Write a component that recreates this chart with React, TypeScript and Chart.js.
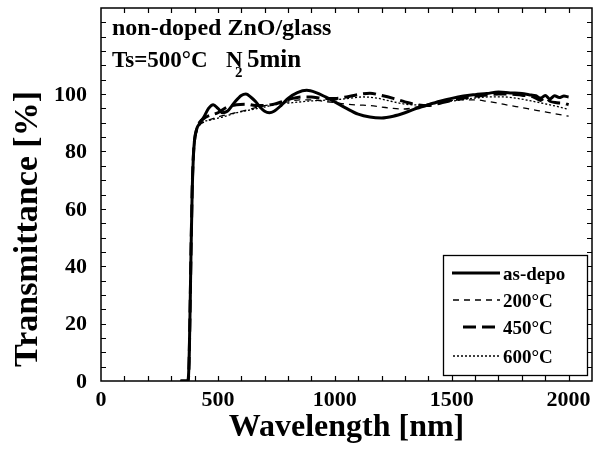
import React, { useEffect, useRef } from "react";
import Chart from "chart.js/auto";

// Transmittance spectra of non-doped ZnO films on glass (Ts = 500 °C, N2 anneal 5 min)
const asDepoNm = [340, 370, 375, 380, 385, 390, 395, 400, 410, 420, 440, 460, 480, 500, 520, 540, 570, 600, 620, 640, 660, 680, 700, 720, 740, 770, 800, 840, 880, 920, 960, 1000, 1050, 1100, 1150, 1200, 1250, 1300, 1350, 1400, 1450, 1500, 1550, 1600, 1650, 1700, 1750, 1800, 1830, 1860, 1880, 1900, 1920, 1940, 1960, 1980, 2000];
const asDepoT = [0, 0, 3, 20, 45, 66, 78, 84, 88, 89.5, 92, 95, 96.3, 95, 93.5, 94, 97, 99.5, 100, 99, 97.5, 95.5, 94, 93.5, 94, 96, 98.5, 100.5, 101.3, 100.5, 99, 97.3, 95, 93, 92, 91.7, 92.3, 93.5, 95, 96.3, 97.5, 98.5, 99.3, 99.8, 100.2, 100.7, 100.4, 100.2, 99.8, 99.4, 98.6, 99.5, 98.3, 99.4, 98.8, 99.3, 99];

const t200Nm = [340, 372, 378, 383, 388, 393, 400, 410, 420, 450, 500, 550, 600, 650, 700, 750, 800, 850, 900, 950, 1000, 1050, 1100, 1150, 1200, 1250, 1300, 1350, 1400, 1450, 1500, 1550, 1600, 1650, 1700, 1750, 1800, 1850, 1900, 1950, 2000];
const t200T = [0, 0, 5, 30, 55, 72, 82, 87, 89, 90.5, 92, 93, 94, 95, 96, 96.5, 97.3, 98, 98, 97.5, 97, 96.5, 96.2, 96, 95.5, 95, 94.8, 95.5, 96.5, 97.3, 97.8, 98, 98, 97.5, 96.8, 96, 95.3, 94.5, 93.8, 93, 92.3];

const t450Nm = [340, 372, 376, 381, 386, 391, 396, 402, 410, 420, 450, 500, 540, 580, 620, 660, 700, 740, 780, 820, 860, 900, 950, 1000, 1050, 1100, 1150, 1200, 1250, 1300, 1350, 1400, 1450, 1500, 1550, 1600, 1650, 1700, 1750, 1800, 1850, 1880, 1900, 1920, 1950, 1980, 2000];
const t450T = [0, 0, 4, 25, 50, 70, 80, 85, 88, 90, 92, 93.5, 95.5, 96.3, 96.5, 96, 96, 96.5, 97.5, 98.5, 99, 99, 98.5, 98.5, 99, 99.8, 100.3, 99.5, 98.5, 97.3, 96.3, 96, 96.8, 97.8, 98.6, 99.2, 99.7, 100, 100, 99.6, 99, 97.8, 98.8, 97.5, 97, 96.8, 96.3];

const t600Nm = [340, 372, 377, 382, 387, 392, 398, 405, 415, 430, 470, 520, 580, 640, 700, 760, 820, 880, 940, 1000, 1060, 1120, 1180, 1240, 1300, 1360, 1420, 1480, 1540, 1600, 1660, 1720, 1780, 1840, 1900, 1960, 2000];
const t600T = [0, 0, 4, 28, 52, 71, 81, 86, 88.5, 90, 91, 92, 93.5, 94.5, 95.5, 96.5, 97, 97.5, 97.8, 98, 98.5, 99, 98.6, 97.5, 96.5, 96.2, 96.6, 97.3, 98, 98.6, 99, 99, 98.5, 97.6, 96.6, 95.5, 94.7];

const seriesLabels = ["as-depo", "200°C", "450°C", "600°C"];
const xLabelValues = [0, 500, 1000, 1500, 2000];
const yLabelValues = [0, 20, 40, 60, 80, 100];

const SERIF = '"Liberation Serif", "Times New Roman", serif';

const lineStyles = [
  { width: 3, dash: [] as number[] },
  { width: 1.3, dash: [6, 5] },
  { width: 3, dash: [13, 6] },
  { width: 1.3, dash: [2, 2] },
];

const toPoints = (xs: number[], ys: number[]) => xs.map((x, i) => ({ x, y: ys[i] }));

const decorPlugin = {
  id: "decor",
  afterDraw(chart: any) {
    const { ctx, chartArea } = chart;
    const { left, right, top, bottom } = chartArea;
    const xs = chart.scales.x;
    const ys = chart.scales.y;
    ctx.save();
    ctx.strokeStyle = "#000";
    ctx.fillStyle = "#000";

    // frame
    ctx.lineWidth = 1.5;
    ctx.strokeRect(left, top, right - left, bottom - top);

    // inward ticks on all four sides
    ctx.lineWidth = 1.2;
    ctx.beginPath();
    for (let v = 100; v < 2100; v += 100) {
      const px = Math.round(xs.getPixelForValue(v)) + 0.5;
      ctx.moveTo(px, bottom);
      ctx.lineTo(px, bottom - 5);
      ctx.moveTo(px, top);
      ctx.lineTo(px, top + 5);
    }
    for (let v = 5; v < 130; v += 5) {
      const py = Math.round(ys.getPixelForValue(v)) + 0.5;
      ctx.moveTo(left, py);
      ctx.lineTo(left + 5, py);
      ctx.moveTo(right, py);
      ctx.lineTo(right - 5, py);
    }
    ctx.stroke();

    // tick labels
    ctx.font = `bold 22px ${SERIF}`;
    ctx.textAlign = "center";
    ctx.textBaseline = "alphabetic";
    xLabelValues.forEach((v) => {
      ctx.fillText(String(v), xs.getPixelForValue(v), 406);
    });
    ctx.textAlign = "right";
    ctx.textBaseline = "middle";
    yLabelValues.forEach((v) => {
      ctx.fillText(String(v), left - 14, ys.getPixelForValue(v) + 1);
    });

    // axis titles
    ctx.font = `bold 32px ${SERIF}`;
    ctx.textAlign = "center";
    ctx.textBaseline = "alphabetic";
    ctx.fillText("Wavelength [nm]", (left + right) / 2, 436);

    ctx.save();
    ctx.translate(36.5, 229);
    ctx.rotate(-Math.PI / 2);
    ctx.font = `bold 34px ${SERIF}`;
    ctx.fillText("Transmittance [%]", 0, 0);
    ctx.restore();

    // sample annotation
    ctx.textAlign = "left";
    ctx.font = `bold 24px ${SERIF}`;
    ctx.fillText("non-doped ZnO/glass", 112, 35);
    ctx.font = `bold 23px ${SERIF}`;
    ctx.fillText("Ts=500°C", 112, 67);
    ctx.fillText("N", 226, 67);
    ctx.font = `bold 15px ${SERIF}`;
    ctx.fillText("2", 235, 77);
    ctx.font = `bold 25px ${SERIF}`;
    ctx.fillText("5min", 247, 67);

    // legend
    const bx = 443, by = 255, bw = 144, bh = 120;
    ctx.fillStyle = "#fff";
    ctx.fillRect(bx, by, bw, bh);
    ctx.fillStyle = "#000";
    ctx.lineWidth = 1.3;
    ctx.setLineDash([]);
    ctx.strokeRect(bx + 0.5, by + 0.5, bw, bh);
    const rowY = [273, 300, 327, 356];
    const sampleStart = [452, 453, 463, 453];
    ctx.font = `bold 19px ${SERIF}`;
    ctx.textAlign = "left";
    ctx.textBaseline = "middle";
    seriesLabels.forEach((lab, i) => {
      ctx.lineWidth = lineStyles[i].width;
      ctx.setLineDash(lineStyles[i].dash);
      ctx.beginPath();
      ctx.moveTo(sampleStart[i], rowY[i]);
      ctx.lineTo(500, rowY[i]);
      ctx.stroke();
      ctx.setLineDash([]);
      ctx.fillText(lab, 503, rowY[i] + 2);
    });
    ctx.restore();
  },
};

export default function App() {
  const canvasRef = useRef<HTMLCanvasElement | null>(null);

  useEffect(() => {
    const canvas = canvasRef.current;
    if (!canvas) return;
    const make = (label: string, xs: number[], ys: number[], i: number) => ({
      label,
      data: toPoints(xs, ys),
      borderColor: "#000",
      borderWidth: lineStyles[i].width,
      borderDash: lineStyles[i].dash,
      pointRadius: 0,
      fill: false,
      cubicInterpolationMode: "monotone" as const,
    });
    const chart = new Chart(canvas, {
      type: "line",
      data: {
        datasets: [
          make(seriesLabels[0], asDepoNm, asDepoT, 0),
          make(seriesLabels[1], t200Nm, t200T, 1),
          make(seriesLabels[2], t450Nm, t450T, 2),
          make(seriesLabels[3], t600Nm, t600T, 3),
        ],
      },
      options: {
        animation: false,
        responsive: false,
        maintainAspectRatio: false,
        layout: { padding: { top: 8, right: 11, left: 101, bottom: 69 } },
        plugins: { legend: { display: false }, tooltip: { enabled: false } },
        scales: {
          x: { type: "linear", display: false, min: 0, max: 2100 },
          y: { type: "linear", display: false, min: 0, max: 130 },
        },
      },
      plugins: [decorPlugin],
    });
    return () => chart.destroy();
  }, []);

  return (
    <div style={{ position: "absolute", left: 0, top: 0, width: 603, height: 450, background: "#fff" }}>
      <canvas ref={canvasRef} width={603} height={450} style={{ display: "block" }} />
    </div>
  );
}
